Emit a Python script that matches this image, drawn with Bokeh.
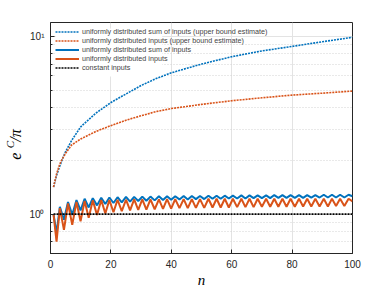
from bokeh.plotting import figure
from bokeh.models import FixedTicker, Legend, LegendItem, Range1d, Title, BoxAnnotation, LinearAxis
from bokeh.embed import file_html
from bokeh.resources import INLINE

# ---------------- data ----------------
# upper bound estimates (dotted curves)
n_ub = [1, 2, 3, 4, 5, 7, 10, 15, 20, 25, 30, 35, 40, 50, 60, 70, 80, 90, 100]
sum_ub = [1.42, 1.65, 1.85, 2.05, 2.25, 2.6, 3.1, 3.7, 4.25, 4.75, 5.3, 5.8, 6.25, 7.0, 7.7, 8.3, 8.8, 9.35, 9.9]
inp_ub = [1.42, 1.68, 1.9, 2.06, 2.2, 2.45, 2.65, 2.92, 3.15, 3.38, 3.58, 3.78, 3.93, 4.15, 4.35, 4.52, 4.68, 4.8, 4.93]

# oscillating curves: start, first trough, peaks / troughs, end
osc_start_n = [1, 2.0]
osc_end_n = [100]
peak_n = [3.1, 5.8, 8.6, 11.3, 14.0, 16.8, 19.5, 22.2, 25.0, 27.7, 30.4, 33.1,
          35.9, 38.6, 41.3, 44.1, 46.8, 49.5, 52.3, 55.0, 57.7, 60.4, 63.2, 65.9,
          68.6, 71.4, 74.1, 76.8, 79.5, 82.3, 85.0, 87.7, 90.5, 93.2, 95.9, 98.7]
trough_n = [4.45, 7.2, 9.95, 12.65, 15.4, 18.15, 20.85, 23.6, 26.35, 29.05, 31.75, 34.5,
            37.25, 39.95, 42.7, 45.45, 48.15, 50.9, 53.65, 56.35, 59.05, 61.8, 64.55, 67.25,
            70.0, 72.75, 75.45, 78.15, 80.9, 83.65, 86.35, 89.1, 91.85, 94.55, 97.3]

sum_start = [1.0, 0.78]
sum_end = [1.26]
sum_peaks = [1.10, 1.17, 1.20, 1.22, 1.23, 1.235, 1.24, 1.245, 1.25, 1.25, 1.255, 1.255,
             1.26, 1.26, 1.26, 1.265, 1.265, 1.265, 1.27, 1.27, 1.27, 1.27, 1.275, 1.275,
             1.275, 1.275, 1.28, 1.28, 1.28, 1.28, 1.28, 1.28, 1.285, 1.285, 1.285, 1.285]
sum_troughs = [0.93, 0.99, 1.05, 1.09, 1.12, 1.14, 1.155, 1.165, 1.175, 1.185, 1.19, 1.195,
               1.2, 1.205, 1.21, 1.21, 1.215, 1.215, 1.22, 1.22, 1.225, 1.225, 1.225, 1.23,
               1.23, 1.23, 1.235, 1.235, 1.235, 1.235, 1.24, 1.24, 1.24, 1.24, 1.24]

inp_start = [1.0, 0.70]
inp_end = [1.18]
inp_peaks = [1.08, 1.15, 1.17, 1.185, 1.195, 1.2, 1.2, 1.205, 1.205, 1.21, 1.21, 1.21,
             1.21, 1.215, 1.215, 1.215, 1.215, 1.215, 1.22, 1.22, 1.22, 1.22, 1.22, 1.22,
             1.22, 1.22, 1.22, 1.22, 1.22, 1.22, 1.22, 1.22, 1.22, 1.22, 1.22, 1.22]
inp_troughs = [0.815, 0.87, 0.91, 0.955, 0.99, 1.01, 1.025, 1.04, 1.05, 1.055, 1.06, 1.065,
               1.07, 1.075, 1.08, 1.08, 1.085, 1.085, 1.09, 1.09, 1.09, 1.095, 1.095, 1.095,
               1.1, 1.1, 1.1, 1.1, 1.1, 1.105, 1.105, 1.105, 1.105, 1.11, 1.11]

n_const = [1, 100]
const_val = [1.0, 1.0]

labels = ["uniformly distributed sum of inputs (upper bound estimate)",
          "uniformly distributed inputs (upper bound estimate)",
          "uniformly distributed sum of inputs",
          "uniformly distributed inputs",
          "constant inputs"]
x_ticks = [0, 20, 40, 60, 80, 100]
y_ticks = [1, 10]
y_tick_labels = {1: "10\u2070", 10: "10\u00b9"}
y_minor = [0.6, 0.7, 0.8, 0.9, 2, 3, 4, 5, 6, 7, 8, 9]


def interleave(start, peaks, troughs, end):
    out = list(start)
    for i, pk in enumerate(peaks):
        out.append(pk)
        if i < len(troughs):
            out.append(troughs[i])
    return out + list(end)


osc_n = interleave(osc_start_n, peak_n, trough_n, osc_end_n)
sum_osc = interleave(sum_start, sum_peaks, sum_troughs, sum_end)
inp_osc = interleave(inp_start, inp_peaks, inp_troughs, inp_end)

BLUE = "#0072BD"
ORANGE = "#D95319"
AX = "#262626"
serif = "Liberation Serif"
TS = "\u2009"  # thin space

p = figure(width=389, height=292, y_axis_type="log",
           x_range=Range1d(0, 100), y_range=Range1d(0.6, 12),
           output_backend="svg", toolbar_location=None,
           min_border_left=50, min_border_right=37,
           min_border_top=22, min_border_bottom=39)
p.background_fill_color = "white"
p.border_fill_color = "white"
p.outline_line_color = AX
p.outline_line_width = 1

xt = FixedTicker(ticks=x_ticks, minor_ticks=[])
yt = FixedTicker(ticks=y_ticks, minor_ticks=y_minor)
p.xaxis.ticker = xt
p.xgrid.ticker = xt
p.yaxis.ticker = yt
p.ygrid.ticker = yt
p.yaxis.major_label_overrides = y_tick_labels

for ax in (p.xaxis, p.yaxis):
    ax.axis_line_color = AX
    ax.major_tick_line_color = AX
    ax.minor_tick_line_color = AX
    ax.major_tick_in = 4
    ax.major_tick_out = 0
    ax.minor_tick_in = 2
    ax.minor_tick_out = 0
    ax.major_label_text_font = "Liberation Sans"
    ax.major_label_text_font_size = "10px"
    ax.major_label_text_color = AX
p.xaxis.major_label_standoff = 6
p.yaxis.major_label_standoff = 6

# y label  e^C / pi : main part on the y axis, superscript C on an extra bare axis
p.yaxis.axis_label = "e" + TS * 3 + "\u200a/\u03c0" + TS * 4
p.yaxis.axis_label_text_font = serif
p.yaxis.axis_label_text_font_style = "italic"
p.yaxis.axis_label_text_font_size = "16px"
p.yaxis.axis_label_text_color = "black"
p.yaxis.axis_label_standoff = 2

sup = LinearAxis(ticker=FixedTicker(ticks=[], minor_ticks=[]),
                 axis_label="C" + TS * 6,
                 axis_label_text_font=serif, axis_label_text_font_style="italic",
                 axis_label_text_font_size="11px", axis_label_text_color="black",
                 axis_label_standoff=-11, axis_line_color=None,
                 major_tick_line_color=None, minor_tick_line_color=None,
                 major_tick_out=0, minor_tick_out=0)
p.add_layout(sup, "left")

p.xgrid.grid_line_color = "#e3e3e3"
p.ygrid.grid_line_color = "#e3e3e3"
p.ygrid.minor_grid_line_color = "#d2d2d2"
p.ygrid.minor_grid_line_dash = "1 2"

# white patch behind the legend's left part (hides the grid there)
p.add_layout(BoxAnnotation(left=1.7, right=37, bottom=5.96, top=11.1,
                           fill_color="white", fill_alpha=1.0, line_color=None,
                           level="underlay"))

r1 = p.line(n_ub, sum_ub, line_color=BLUE, line_width=1.6, line_dash="2 1")
r2 = p.line(n_ub, inp_ub, line_color=ORANGE, line_width=1.6, line_dash="2 1")
r3 = p.line(osc_n, sum_osc, line_color=BLUE, line_width=2)
r4 = p.line(osc_n, inp_osc, line_color=ORANGE, line_width=2)
r5 = p.line(n_const, const_val, line_color="black", line_width=1.6, line_dash="2 1")

legend = Legend(items=[LegendItem(label=lab, renderers=[r]) for lab, r in zip(labels, [r1, r2, r3, r4, r5])],
                location="top_left", border_line_color=None,
                background_fill_alpha=0.0,
                label_text_font="Liberation Sans", label_text_font_size="7.2px",
                glyph_width=24, glyph_height=9, label_height=9, spacing=0,
                padding=2, margin=5, label_standoff=3)
p.add_layout(legend)

# x label n
p.add_layout(Title(text="n", align="center", vertical_align="top",
                   text_font=serif, text_font_style="italic", text_font_size="15px",
                   text_color="black", standoff=3), "below")

open("out.html", "w").write(file_html(p, INLINE))
